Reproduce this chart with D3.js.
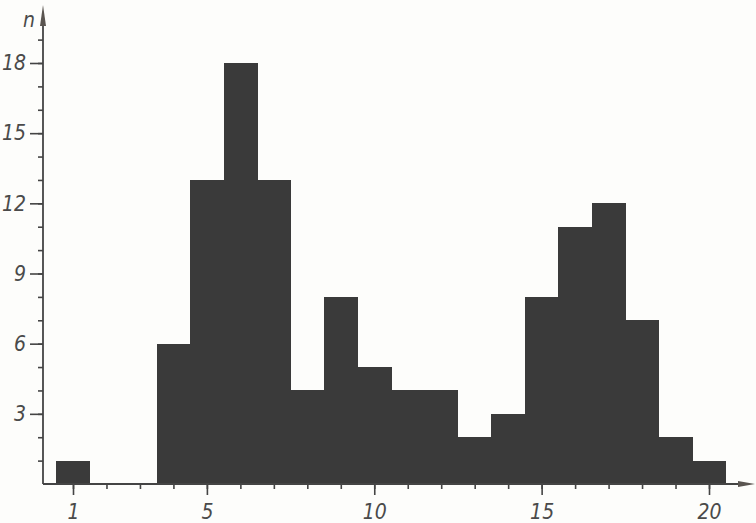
<!DOCTYPE html>
<html>
<head>
<meta charset="utf-8">
<script src="https://cdn.jsdelivr.net/npm/d3@7"></script>
<style>
  html, body { margin: 0; padding: 0; background: #fdfdfb; }
  svg { display: block; }
  .lbl { font-family: "DejaVu Sans Condensed", "DejaVu Sans", sans-serif; font-stretch: condensed; font-style: italic; font-weight: 300; font-size: 21px; fill: #4a4a4a; }
</style>
</head>
<body>
<script>
// histogram: one bin per integer value, bins are 1 wide and centred on the value
var binValues = [1, 4, 5, 6, 7, 8, 9, 10, 11, 12, 13, 14, 15, 16, 17, 18, 19, 20];
var binCounts = [1, 6, 13, 18, 13, 4, 8, 5, 4, 4, 2, 3, 8, 11, 12, 7, 2, 1];
var xTickLabels = [1, 5, 10, 15, 20];
var yTickLabels = [3, 6, 9, 12, 15, 18];

var width = 756, height = 523;
var ink = "#444";

var x = d3.scaleLinear().domain([1, 20]).range([73, 709]);
var y = d3.scaleLinear().domain([0, 18]).range([484, 63]);

var svg = d3.select("body").append("svg")
    .attr("width", width)
    .attr("height", height);

var bins = binValues.map(function(v, i) { return {v: v, n: binCounts[i]}; });

// bars (no stroke so neighbouring bins merge like the printed figure)
svg.append("g").selectAll("rect")
    .data(bins)
  .enter().append("rect")
    .attr("x", function(d) { return x(d.v - 0.5); })
    .attr("width", function(d) { return x(d.v + 0.5) - x(d.v - 0.5) + 0.5; })
    .attr("y", function(d) { return y(d.n); })
    .attr("height", function(d) { return y(0) - y(d.n); })
    .attr("fill", "#3a3a3a")
    .attr("shape-rendering", "crispEdges");

var axisX = 43;

// x axis: major ticks labelled, minor ticks every integer
var xMinor = d3.axisBottom(x).tickValues(d3.range(1, 21)).tickSize(5).tickFormat("");
var xMajor = d3.axisBottom(x).tickValues(xTickLabels).tickSize(11).tickPadding(9);

[xMinor, xMajor].forEach(function(ax) {
  var g = svg.append("g").attr("transform", "translate(0," + y(0) + ")").call(ax);
  g.select(".domain").remove();
  g.selectAll("line").attr("stroke", ink).attr("stroke-width", 1.6);
  g.selectAll("text").attr("class", "lbl").attr("font-size", null).attr("font-family", null).attr("fill", null);
});

// y axis: ticks on the left side
var yMinor = d3.axisLeft(y).tickValues(d3.range(1, 20)).tickSize(5).tickFormat("");
var yMajor = d3.axisLeft(y).tickValues(yTickLabels).tickSize(13).tickPadding(4);

[yMinor, yMajor].forEach(function(ax) {
  var g = svg.append("g").attr("transform", "translate(" + axisX + ",0)").call(ax);
  g.select(".domain").remove();
  g.selectAll("line").attr("stroke", ink).attr("stroke-width", 1.6);
  g.selectAll("text").attr("class", "lbl").attr("font-size", null).attr("font-family", null).attr("fill", null);
});

// axis lines with arrow heads
svg.append("line")
    .attr("x1", axisX).attr("x2", 742)
    .attr("y1", y(0)).attr("y2", y(0))
    .attr("stroke", ink).attr("stroke-width", 1.8);
svg.append("line")
    .attr("x1", axisX).attr("x2", axisX)
    .attr("y1", y(0)).attr("y2", 22)
    .attr("stroke", ink).attr("stroke-width", 1.8);

svg.append("path")
    .attr("d", "M" + (axisX - 3) + ",26 L" + axisX + ",5 L" + (axisX + 3) + ",26 Z")
    .attr("fill", "#5a5550");
svg.append("path")
    .attr("d", "M738," + (y(0) - 3) + " L755," + y(0) + " L738," + (y(0) + 3) + " Z")
    .attr("fill", "#5a5550");

// axis name
svg.append("text")
    .attr("class", "lbl")
    .attr("x", 29).attr("y", 27)
    .attr("text-anchor", "middle")
    .text("n");
</script>
</body>
</html>
